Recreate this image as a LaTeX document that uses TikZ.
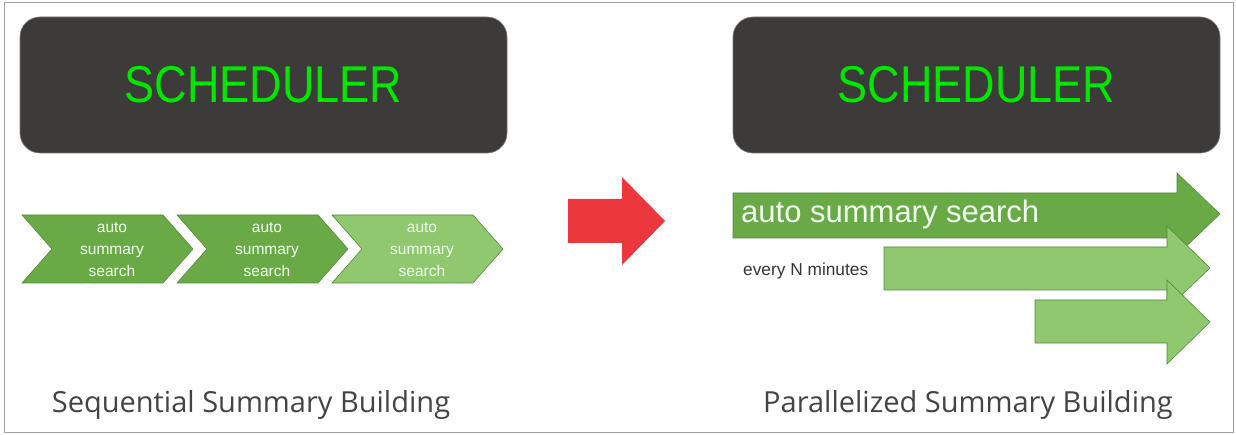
\documentclass[tikz,border=0pt]{standalone}
\usepackage{fontspec}
\setmainfont{Liberation Sans}
\newfontfamily\captionfont{Open Sans}
\usetikzlibrary{positioning}
\definecolor{SchedGrey}{RGB}{60,59,57}
\definecolor{SchedEdge}{RGB}{120,120,118}
\definecolor{SchedGreen}{RGB}{0,232,0}
\definecolor{StepGreen}{RGB}{106,170,70}
\definecolor{StepLight}{RGB}{143,200,111}
\definecolor{StepBorder}{RGB}{84,138,58}
\definecolor{ShiftRed}{RGB}{236,56,60}
\definecolor{CaptionGrey}{RGB}{68,68,68}
\definecolor{FrameGrey}{RGB}{160,160,160}
\tikzset{
  schedbox/.style={fill=SchedGrey, draw=SchedEdge, line width=0.6pt, rounded corners=20pt,
    minimum width=487pt, minimum height=136pt, inner sep=0pt,
    text=SchedGreen, font=\fontsize{45}{50}\selectfont},
  steptext/.style={align=center, text=white!94!green, inner sep=0pt,
    font=\fontsize{15.5}{22}\selectfont},
  stepdark/.style={fill=StepGreen, draw=StepBorder, line width=0.6pt},
  steplight/.style={fill=StepLight, draw=StepBorder, line width=0.6pt},
  caption/.style={text=CaptionGrey, inner sep=0pt, font=\captionfont\fontsize{29}{32}\selectfont}
}

\begin{document}
\begin{tikzpicture}[x=1pt,y=-1pt]
  \path[use as bounding box] (0,0) rectangle (1236,435);
  \fill[white] (0,0) rectangle (1236,435);
  \draw[FrameGrey, line width=1pt] (4,3) rectangle (1233,432);

  % schedulers
  \node[schedbox] (schedSeq) at (263.5,85) {\scalebox{1}[1.15]{SCHEDULER}};
  \node[schedbox] (schedPar) at (976.5,85) {\scalebox{1}[1.15]{SCHEDULER}};

  % sequential chain
  \foreach \dx/\look in {0/stepdark, 155/stepdark, 310/steplight} {
    \draw[\look] (22+\dx,215) -- (163+\dx,215) -- (193+\dx,249) -- (163+\dx,283)
      -- (22+\dx,283) -- (52+\dx,249) -- cycle;
  }
  \node[steptext] (searchA) at (112,250) {auto\\summary\\search};
  \node[steptext] (searchB) at (267,250) {auto\\summary\\search};
  \node[steptext] (searchC) at (422,250) {auto\\summary\\search};

  % change over
  \fill[ShiftRed] (568,199) -- (622,199) -- (622,177) -- (665,221) -- (622,265)
    -- (622,243) -- (568,243) -- cycle;

  % parallel runs
  \draw[stepdark] (733,193) -- (1177,193) -- (1177,173) -- (1220,214) -- (1177,255)
    -- (1177,238) -- (733,238) -- cycle;
  \draw[steplight] (884,247) -- (1167,247) -- (1167,226) -- (1210,268) -- (1167,309)
    -- (1167,290) -- (884,290) -- cycle;
  \draw[steplight] (1035,300) -- (1167,300) -- (1167,280) -- (1210,322) -- (1167,364)
    -- (1167,343) -- (1035,343) -- cycle;
  \node[anchor=west, text=white!94!green, inner sep=0pt, font=\fontsize{31}{34}\selectfont]
    (searchRun) at (741,214) {auto summary search};
  \node[anchor=west, text=CaptionGrey!80!black, inner sep=0pt, font=\fontsize{17.3}{19}\selectfont]
    (interval) at (743,271) {every N minutes};

  % captions
  \node[caption] (capSeq) at (251,405) {Sequential Summary Building};
  \node[caption] (capPar) at (968,405) {Parallelized Summary Building};
\end{tikzpicture}
\end{document}
